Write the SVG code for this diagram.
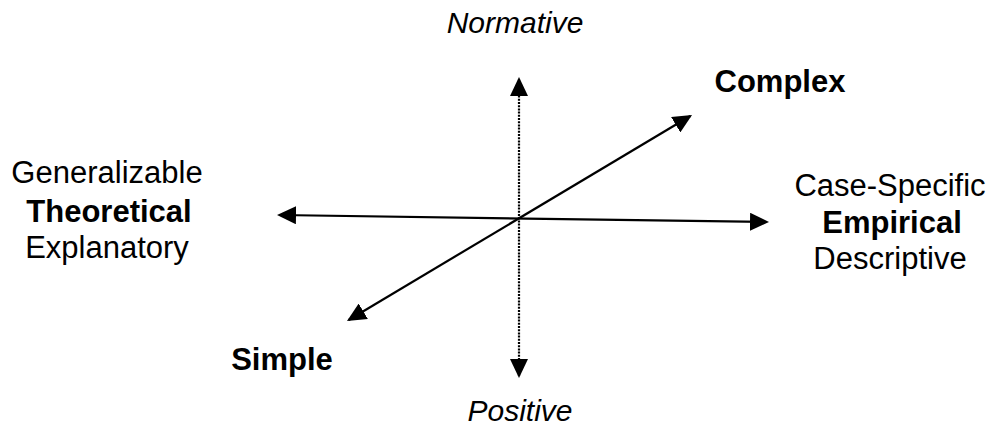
<svg xmlns="http://www.w3.org/2000/svg" width="995" height="435" viewBox="0 0 995 435">
<style>
text{font-family:"Liberation Sans",Arial,sans-serif;font-size:31px;fill:#000;text-anchor:middle}
.b{font-weight:bold}
.i{font-style:italic;font-size:30px}
.ax{stroke:#000;stroke-width:2.2;fill:none}
.dot{stroke-dasharray:2 1.2}
</style>
<defs>
<marker id="ah" viewBox="0 0 19 18" refX="17" refY="9" markerWidth="19" markerHeight="18" markerUnits="userSpaceOnUse" orient="auto-start-reverse">
<path d="M0,0 L19,9 L0,18 Z" fill="#000"/>
</marker>
</defs>
<rect width="995" height="435" fill="#fff"/>
<g id="connectors">
<line class="ax dot" x1="519" y1="376" x2="519" y2="79" marker-start="url(#ah)" marker-end="url(#ah)"/>
<line class="ax" x1="279" y1="215" x2="767" y2="222" marker-start="url(#ah)" marker-end="url(#ah)"/>
<line class="ax" x1="348.7" y1="320" x2="690.3" y2="116" marker-start="url(#ah)" marker-end="url(#ah)"/>
</g>
<g id="normative"><text class="i" x="515" y="33">Normative</text></g>
<g id="positive"><text class="i" x="520" y="421">Positive</text></g>
<g id="complex"><text class="b" x="780" y="92">Complex</text></g>
<g id="simple"><text class="b" x="282" y="370">Simple</text></g>
<g id="left">
<text x="107" y="183">Generalizable</text>
<text class="b" x="109" y="222">Theoretical</text>
<text x="107" y="258">Explanatory</text>
</g>
<g id="right">
<text x="890" y="196">Case-Specific</text>
<text class="b" x="892" y="233">Empirical</text>
<text x="890" y="269">Descriptive</text>
</g>
</svg>
